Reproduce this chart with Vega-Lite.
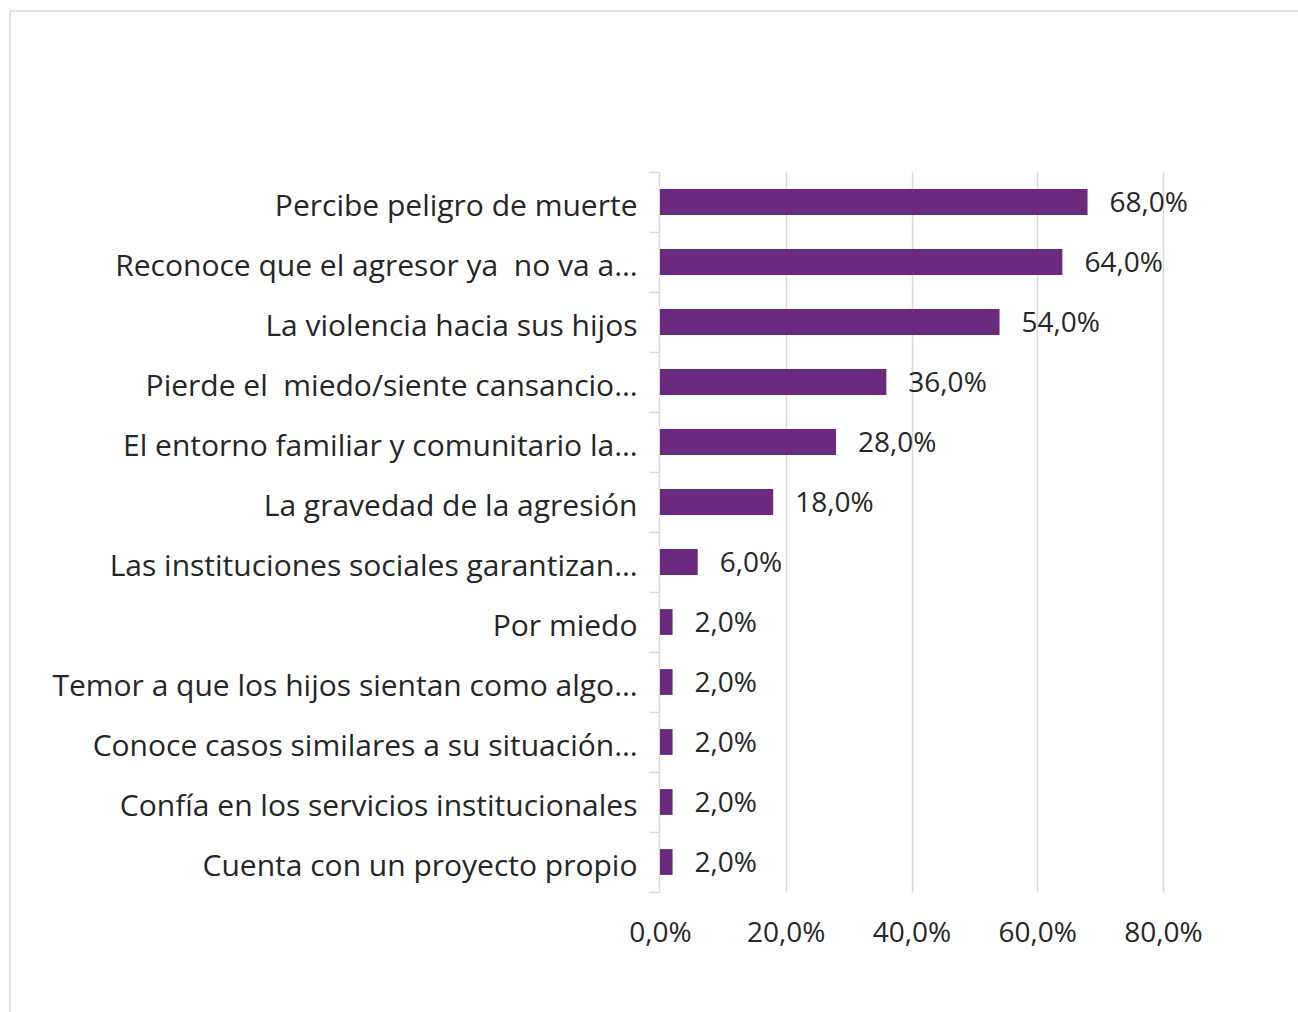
{
  "$schema": "https://vega.github.io/schema/vega-lite/v6.json",
  "autosize": {"type": "none"},
  "padding": {"left": 10, "top": 11, "right": -6, "bottom": -6},
  "width": 1294,
  "height": 1007,
  "background": "#ffffff",
  "config": {
    "locale": {"number": {"decimal": ",", "thousands": ".", "grouping": [3], "currency": ["", " €"]}},
    "view": {"stroke": "#D9D9D9", "strokeWidth": 1.5},
    "font": "Open Sans"
  },
  "data": {
    "values": [
      {"motivo": "Percibe peligro de muerte", "valor": 0.68},
      {"motivo": "Reconoce que el agresor ya\u00a0 no va a…", "valor": 0.64},
      {"motivo": "La violencia hacia sus hijos", "valor": 0.54},
      {"motivo": "Pierde el\u00a0 miedo/siente cansancio…", "valor": 0.36},
      {"motivo": "El entorno familiar y comunitario la…", "valor": 0.28},
      {"motivo": "La gravedad de la agresión", "valor": 0.18},
      {"motivo": "Las instituciones sociales garantizan…", "valor": 0.06},
      {"motivo": "Por miedo", "valor": 0.02},
      {"motivo": "Temor a que los hijos sientan como algo…", "valor": 0.02},
      {"motivo": "Conoce casos similares a su situación…", "valor": 0.02},
      {"motivo": "Confía en los servicios institucionales", "valor": 0.02},
      {"motivo": "Cuenta con un proyecto propio", "valor": 0.02}
    ]
  },
  "encoding": {
    "y": {
      "field": "motivo",
      "type": "nominal",
      "sort": null,
      "scale": {"range": [161, 881], "paddingInner": 0, "paddingOuter": 0},
      "axis": {
        "title": null,
        "offset": -649,
        "domainColor": "#D9D9D9",
        "domainWidth": 1.5,
        "tickColor": "#D9D9D9",
        "tickWidth": 1.5,
        "tickSize": 10,
        "tickBand": "extent",
        "labelPadding": 12,
        "labelOffset": 4,
        "labelFont": "Open Sans",
        "labelFontSize": 30,
        "labelColor": "#262626",
        "labelLimit": 0,
        "grid": false
      }
    }
  },
  "layer": [
    {
      "mark": {"type": "bar", "color": "#6B2A7E", "height": {"band": 0.43}},
      "encoding": {
        "x": {
          "field": "valor",
          "type": "quantitative",
          "scale": {"domain": [0, 0.8], "range": [650, 1153], "nice": false},
          "axis": {
            "orient": "top",
            "title": null,
            "offset": 0,
            "values": [0.2, 0.4, 0.6, 0.8],
            "labels": false,
            "domain": false,
            "ticks": false,
            "grid": true,
            "gridColor": "#D9D9D9",
            "gridWidth": 1.5
          }
        }
      }
    },
    {
      "mark": {"type": "text", "align": "left", "baseline": "middle", "dx": 22, "dy": 2, "font": "Open Sans", "fontSize": 28, "color": "#262626"},
      "encoding": {
        "x": {
          "field": "valor",
          "type": "quantitative",
          "axis": {
            "orient": "bottom",
            "title": null,
            "offset": -126,
            "values": [0, 0.2, 0.4, 0.6, 0.8],
            "format": ".1%",
            "domain": false,
            "ticks": false,
            "grid": false,
            "labelFlush": false,
            "labelPadding": 27,
            "labelFont": "Open Sans",
            "labelFontSize": 28,
            "labelColor": "#262626"
          }
        },
        "text": {"field": "valor", "type": "quantitative", "format": ".1%"}
      }
    }
  ],
  "resolve": {"axis": {"x": "independent"}}
}
